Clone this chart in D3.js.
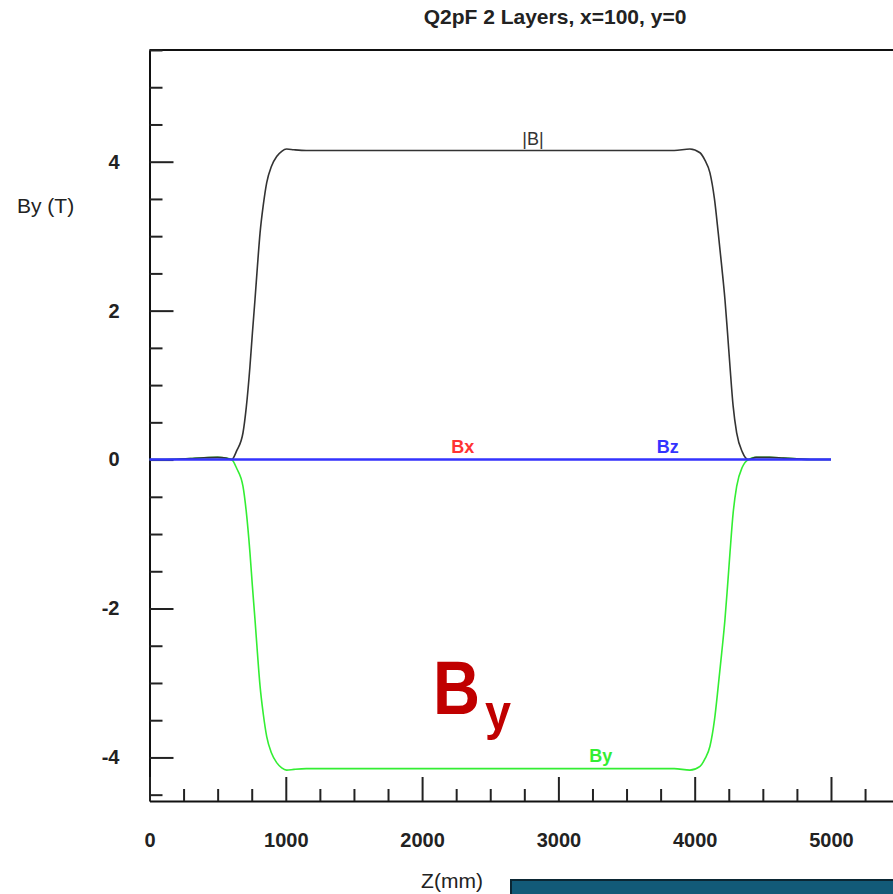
<!DOCTYPE html>
<html>
<head>
<meta charset="utf-8">
<script src="https://cdn.jsdelivr.net/npm/d3@7"></script>
<style>
  html, body { margin: 0; padding: 0; background: #fff; }
  svg { display: block; font-family: "Liberation Sans", Arial, sans-serif; }
</style>
</head>
<body>
<script>
// field along z (mm)
const zPts = [0, 200, 300, 400, 500, 560, 603, 640, 686, 710, 737, 755, 774, 792, 811, 835, 860, 895, 933, 970,
  1006, 1060, 1150, 1500, 2000, 2500, 3000, 3500, 3850, 3965, 4039, 4075, 4112, 4145, 4173, 4198, 4222, 4241,
  4259, 4282, 4308, 4350, 4393, 4450, 4550, 4650, 4750, 4850, 5000]
const byVals = [0, 0.005, 0.015, 0.025, 0.03, 0.02, 0, -0.12, -0.36, -0.7, -1.25, -1.7, -2.15, -2.6, -3.04, -3.42,
  -3.72, -3.94, -4.07, -4.14, -4.17, -4.16, -4.15, -4.15, -4.15, -4.15, -4.15, -4.15, -4.15, -4.17, -4.12, -4.02,
  -3.85, -3.5, -3.04, -2.6, -2.15, -1.7, -1.25, -0.72, -0.36, -0.1, 0, 0.03, 0.03, 0.02, 0.01, 0, 0]
const bMagVals = [0, 0.005, 0.015, 0.025, 0.03, 0.02, 0, 0.12, 0.36, 0.7, 1.25, 1.7, 2.15, 2.6, 3.04, 3.42,
  3.72, 3.94, 4.07, 4.14, 4.17, 4.16, 4.15, 4.15, 4.15, 4.15, 4.15, 4.15, 4.15, 4.17, 4.12, 4.02,
  3.85, 3.5, 3.04, 2.6, 2.15, 1.7, 1.25, 0.72, 0.36, 0.1, 0, 0.03, 0.03, 0.02, 0.01, 0, 0]
const zFlat = [0, 5000]
const bxVals = [0, 0]
const bzVals = [0, 0]

const xMajor = [0, 1000, 2000, 3000, 4000, 5000]
const yMajor = [-4, -2, 0, 2, 4]

const W = 893, H = 894
const svg = d3.select('body').append('svg').attr('width', W).attr('height', H)

const x = d3.scaleLinear().domain([0, 5455]).range([149.5, 893])
const y = d3.scaleLinear().domain([-4.585, 5.5]).range([801, 50])

const xMinor = d3.range(250, 5455, 250).filter(d => d % 1000 !== 0)
const yMinor = d3.range(-4.5, 5.51, 0.5).filter(d => d % 2 !== 0)

// title
svg.append('text').attr('x', 555).attr('y', 24).attr('text-anchor', 'middle')
  .attr('font-size', 21).attr('font-weight', 'bold').attr('fill', '#222')
  .text('Q2pF 2 Layers, x=100, y=0')

// frame top
svg.append('line').attr('x1', x(0)).attr('x2', x(5455)).attr('y1', y(5.5)).attr('y2', y(5.5))
  .attr('stroke', '#111').attr('stroke-width', 2)

// y axis (ticks point inward)
svg.append('g').attr('transform', `translate(${x(0)},0)`)
  .call(d3.axisLeft(y).tickValues(yMajor).tickSizeInner(-24).tickSizeOuter(0).tickPadding(30)
    .tickFormat(d => String(d)))
svg.append('g').attr('transform', `translate(${x(0)},0)`)
  .call(d3.axisLeft(y).tickValues(yMinor).tickSizeInner(-13).tickSizeOuter(0).tickFormat(''))
  .select('.domain').remove()

// x axis
svg.append('g').attr('transform', `translate(0,${y(-4.585)})`)
  .call(d3.axisBottom(x).tickValues(xMajor).tickSizeInner(-24).tickSizeOuter(0).tickPadding(32)
    .tickFormat(d => String(d)))
svg.append('g').attr('transform', `translate(0,${y(-4.585)})`)
  .call(d3.axisBottom(x).tickValues(xMinor).tickSizeInner(-12).tickSizeOuter(0).tickFormat(''))
  .select('.domain').remove()

svg.selectAll('.domain').attr('stroke', '#111').attr('stroke-width', 2)
svg.selectAll('.tick line').attr('stroke', '#222').attr('stroke-width', 2)
svg.selectAll('.tick text').attr('font-size', 20).attr('font-weight', 'bold')
  .attr('font-family', '"Liberation Sans", Arial, sans-serif').attr('fill', '#222')

// axis titles
svg.append('text').attr('x', 17).attr('y', 213).attr('font-size', 21).attr('fill', '#222').text('By (T)')
svg.append('text').attr('x', 452).attr('y', 888).attr('text-anchor', 'middle')
  .attr('font-size', 21).attr('fill', '#222').text('Z(mm)')

// curves
const line = (zs, vs) => d3.line().x((d, i) => x(zs[i])).y(d => y(d)).curve(d3.curveMonotoneX)(vs)

svg.append('path').attr('d', line(zFlat, bxVals)).attr('fill', 'none').attr('stroke', '#ff3333').attr('stroke-width', 1)
svg.append('path').attr('d', line(zPts, byVals)).attr('fill', 'none').attr('stroke', '#33ee33').attr('stroke-width', 1.6)
svg.append('path').attr('d', line(zPts, bMagVals)).attr('fill', 'none').attr('stroke', '#333').attr('stroke-width', 1.6)
svg.append('path').attr('d', line(zFlat, bzVals)).attr('fill', 'none').attr('stroke', '#3333ff').attr('stroke-width', 2.6)

// curve labels
const lab = (t, zx, v, col) => svg.append('text').attr('x', x(zx)).attr('y', y(v)).attr('text-anchor', 'middle')
  .attr('font-size', 18).attr('font-weight', 'bold').attr('fill', col).text(t)
lab('|B|', 2813, 4.23, '#333').attr('font-weight', 'normal')
lab('Bx', 2299, 0.094, '#ff3333')
lab('Bz', 3803, 0.094, '#3333ff')
lab('By', 3311, -4.06, '#33ee33')

// big annotation
svg.append('text').attr('x', x(2080)).attr('y', y(-3.42)).attr('font-size', 76).attr('font-weight', 'bold')
  .attr('fill', '#c00000').attr('textLength', 47).attr('lengthAdjust', 'spacingAndGlyphs').text('B')
svg.append('text').attr('x', x(2462)).attr('y', y(-3.63)).attr('font-size', 50).attr('font-weight', 'bold')
  .attr('fill', '#c00000').attr('textLength', 26).attr('lengthAdjust', 'spacingAndGlyphs').text('y')

// cropped slide box at bottom right
svg.append('rect').attr('x', 511).attr('y', 880).attr('width', 390).attr('height', 20)
  .attr('fill', '#125a78').attr('stroke', '#0b2633').attr('stroke-width', 2)
</script>
</body>
</html>
